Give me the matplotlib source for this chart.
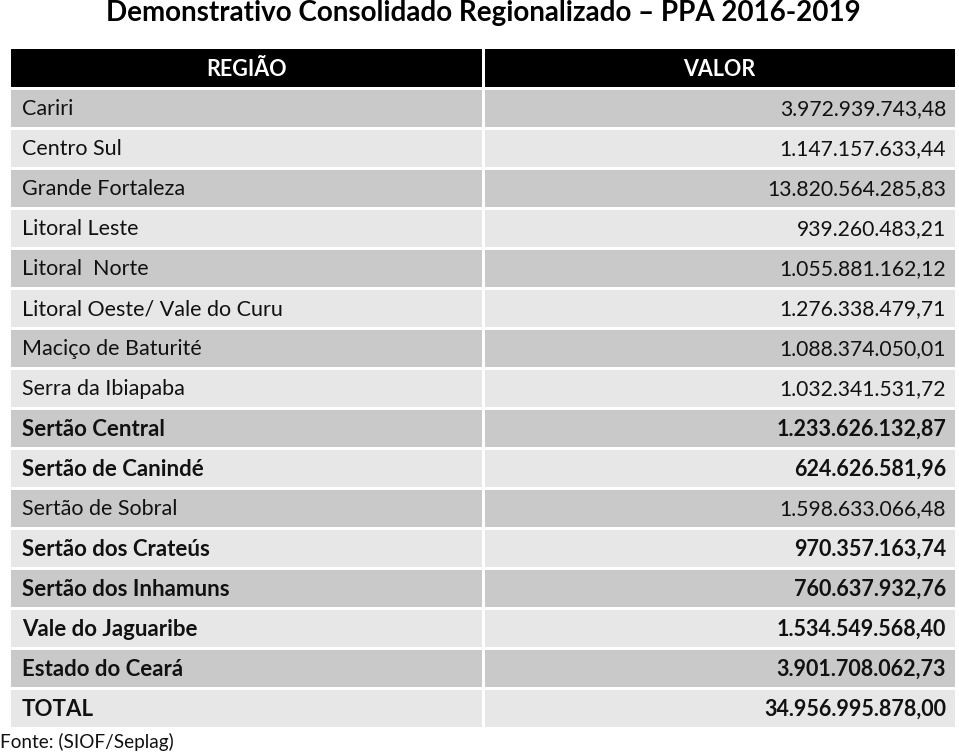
import matplotlib.pyplot as plt
from matplotlib.patches import Rectangle

plt.rcParams['font.family'] = ['Lato', 'DejaVu Sans']

title = 'Demonstrativo Consolidado Regionalizado \u2013 PPA 2016-2019'
headers = ['REGIÃO', 'VALOR']
regions = ['Cariri', 'Centro Sul', 'Grande Fortaleza', 'Litoral Leste', 'Litoral  Norte',
           'Litoral Oeste/ Vale do Curu', 'Maciço de Baturité', 'Serra da Ibiapaba',
           'Sertão Central', 'Sertão de Canindé', 'Sertão de Sobral', 'Sertão dos Crateús',
           'Sertão dos Inhamuns', 'Vale do Jaguaribe', 'Estado do Ceará', 'TOTAL']
values = [3972939743.48, 1147157633.44, 13820564285.83, 939260483.21, 1055881162.12,
          1276338479.71, 1088374050.01, 1032341531.72, 1233626132.87, 624626581.96,
          1598633066.48, 970357163.74, 760637932.76, 1534549568.40, 3901708062.73,
          34956995878.00]
bold_rows = [False, False, False, False, False, False, False, False,
             True, True, False, True, True, True, True, True]
source = 'Fonte: (SIOF/Seplag)'


def fmt_br(v):
    s = f'{v:,.2f}'
    return s.replace(',', 'X').replace('.', ',').replace('X', '.')


W, H = 959, 753
fig = plt.figure(figsize=(W / 100, H / 100), dpi=100)
ax = fig.add_axes([0, 0, 1, 1])
ax.set_xlim(0, W)
ax.set_ylim(H, 0)
ax.axis('off')

left, split, right = 11, 483, 955
col_gap = 3
row_h = 40
header_top, header_bot = 49, 87
first_top = 89

ax.text(483, 13, title, ha='center', va='center', fontsize=20, fontweight='bold')

# header
ax.add_patch(Rectangle((left, header_top), split - left - 1, header_bot - header_top, color='black', lw=0))
ax.add_patch(Rectangle((split + col_gap - 1, header_top), right - split - col_gap + 1,
                       header_bot - header_top, color='black', lw=0))
ax.text((left + split) / 2, (header_top + header_bot) / 2 + 1, headers[0], ha='center', va='center',
        color='white', fontsize=15.5, fontweight='bold')
ax.text((split + right) / 2, (header_top + header_bot) / 2 + 1, headers[1], ha='center', va='center',
        color='white', fontsize=15.5, fontweight='bold')

# rows
for i, (reg, val, b) in enumerate(zip(regions, values, bold_rows)):
    top = first_top + i * row_h
    color = '#c9c9c9' if i % 2 == 0 else '#e7e7e7'
    ax.add_patch(Rectangle((left, top + 1), split - left - 1, row_h - 3, color=color, lw=0))
    ax.add_patch(Rectangle((split + col_gap - 1, top + 1), right - split - col_gap + 1, row_h - 3,
                           color=color, lw=0))
    yc = top + row_h / 2
    if b:
        ax.text(22, yc, reg, ha='left', va='center', fontsize=16, fontweight='bold', color='#111111')
        ax.text(946, yc, fmt_br(val), ha='right', va='center', fontsize=15.5, fontweight='bold',
                color='#111111')
    else:
        ax.text(22, yc, reg, ha='left', va='center', fontsize=15.5, color='#111111')
        ax.text(946, yc, fmt_br(val), ha='right', va='center', fontsize=15.2, color='#111111')

ax.text(0, 742, source, ha='left', va='center', fontsize=13.7, color='#111111')

fig.savefig('out.png', dpi=100)
